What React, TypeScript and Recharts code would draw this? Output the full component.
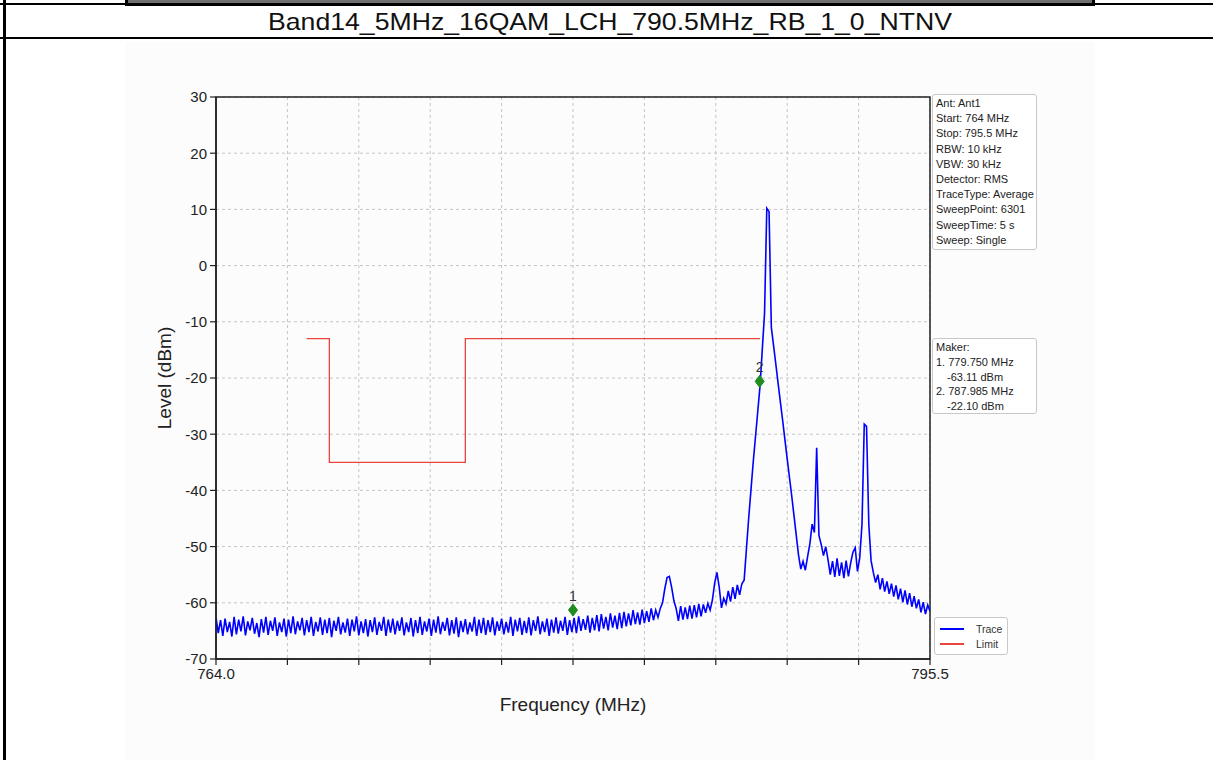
// Spectrum plot: Band14 5MHz 16QAM LCH trace against the emission limit.
import {
  CartesianGrid,
  ComposedChart,
  Line,
  ReferenceArea,
  ReferenceDot,
  XAxis,
  YAxis,
} from "recharts";

const FONT = "'Liberation Sans', Arial, sans-serif";

const TITLE = "Band14_5MHz_16QAM_LCH_790.5MHz_RB_1_0_NTNV";

const FREQ_START = 764;
const FREQ_STEP = 0.1;
const TRACE_LEVELS = [
  -62.6, -65.4, -63.1, -65.9, -62.8, -65.2, -63.4, -66.0, -62.5, -65.6,
  -63.0, -65.1, -62.4, -65.8, -63.3, -64.9, -62.7, -65.5, -63.6, -66.1,
  -62.9, -65.3, -62.5, -65.7, -63.2, -65.0, -62.6, -65.9, -63.5, -65.2,
  -62.8, -66.0, -63.0, -65.4, -62.4, -65.6, -63.3, -64.9, -62.7, -65.8,
  -63.1, -65.2, -62.5, -65.9, -63.4, -65.1, -62.6, -65.7, -63.0, -65.4,
  -62.7, -66.1, -63.2, -65.0, -62.5, -65.6, -63.5, -65.3, -62.8, -65.9,
  -63.0, -65.1, -62.4, -65.8, -63.3, -65.4, -62.9, -66.0, -63.1, -65.2,
  -62.6, -65.7, -63.4, -65.0, -62.5, -65.9, -63.0, -65.3, -62.8, -65.6,
  -63.2, -65.0, -62.6, -65.8, -63.5, -65.2, -62.7, -66.0, -63.1, -65.4,
  -62.5, -65.7, -63.3, -65.1, -62.8, -65.9, -63.0, -65.3, -62.4, -65.6,
  -63.4, -65.0, -62.7, -65.8, -63.1, -65.5, -62.6, -66.1, -63.2, -65.2,
  -62.9, -65.6, -63.5, -65.1, -62.5, -65.9, -63.0, -65.4, -62.7, -65.7,
  -63.1, -65.2, -62.6, -65.8, -63.3, -65.0, -62.8, -65.6, -63.4, -65.3,
  -62.5, -65.9, -63.0, -65.1, -62.7, -65.7, -63.2, -65.4, -62.6, -65.8,
  -63.1, -65.0, -62.4, -65.6, -63.3, -65.2, -62.8, -65.9, -63.0, -65.3,
  -62.6, -65.5, -63.2, -65.0, -62.5, -65.7, -63.1, -65.2, -62.7, -65.4,
  -62.4, -65.0, -62.9, -64.8, -62.3, -65.3, -62.7, -64.9, -62.2, -65.1,
  -62.0, -64.6, -62.5, -64.9, -61.9, -64.4, -62.3, -64.7, -61.8, -64.5,
  -61.6, -64.2, -61.9, -64.0, -61.3, -63.8, -61.7, -63.9, -61.2, -63.6,
  -61.5, -63.4, -61.0, -63.1, -61.3, -62.6, -61.0, -60.0, -57.5, -55.5,
  -55.3, -57.2, -59.6, -61.0, -63.2, -60.6, -63.0, -60.8, -62.9, -60.5,
  -62.8, -60.4, -62.6, -60.2, -62.4, -60.3, -61.8, -60.1, -61.3, -59.5,
  -56.5, -54.6, -57.2, -60.9, -59.2, -60.2, -57.9, -59.8, -57.2, -59.3,
  -56.8, -58.6, -56.6, -56.0, -50.5, -45.0, -40.0, -35.0, -30.5, -26.0,
  -21.5, -15.0, -8.5, 10.2, 9.6, -11.0, -14.3, -17.6, -21.0, -24.3,
  -27.6, -31.0, -34.4, -37.7, -41.0, -44.5, -48.0, -51.5, -54.0, -52.6,
  -54.2, -51.8, -49.5, -46.0, -47.5, -32.4, -48.0, -49.6, -51.6, -50.0,
  -52.3, -55.0, -52.6, -55.4, -52.1, -55.2, -52.8, -55.6, -52.5, -55.3,
  -52.9, -51.0, -50.2, -54.4, -52.0, -46.0, -28.2, -28.6, -46.0, -52.5,
  -54.6, -56.4, -55.0, -57.6, -55.6, -58.0, -56.2, -58.4, -56.6, -58.9,
  -56.9, -59.4, -57.5, -59.9, -57.8, -60.3, -58.3, -60.7, -58.8, -61.0,
  -59.4, -61.7, -59.9, -62.0, -60.4, -61.5,
];

// Limit line (step mask).
const LIMIT_FREQS = [768, 769, 769, 775, 775, 788];
const LIMIT_LEVELS = [-13, -13, -35, -35, -13, -13];

// Markers, placed where the diamonds are drawn.
const MARKER_NAMES = ["1", "2"];
const MARKER_FREQS = [779.75, 787.985];
const MARKER_LEVELS = [-61.3, -20.6];

const X_TICKS = [764, 767.15, 770.3, 773.45, 776.6, 779.75, 782.9, 786.05, 789.2, 792.35, 795.5];
const X_LABELED = [764, 795.5];
const Y_TICKS = [-70, -60, -50, -40, -30, -20, -10, 0, 10, 20, 30];

const SETTINGS_LINES = [
  "Ant: Ant1",
  "Start: 764 MHz",
  "Stop: 795.5 MHz",
  "RBW: 10 kHz",
  "VBW: 30 kHz",
  "Detector: RMS",
  "TraceType: Average",
  "SweepPoint: 6301",
  "SweepTime: 5 s",
  "Sweep: Single",
];
const MARKER_LINES = ["Maker:", "1. 779.750 MHz", "-63.11 dBm", "2. 787.985 MHz", "-22.10 dBm"];

const LEGEND_ITEMS = [
  { name: "Trace", color: "#0000ff" },
  { name: "Limit", color: "#e8453c" },
];

const traceData = TRACE_LEVELS.map((level, i) => ({
  freq: Math.round((FREQ_START + i * FREQ_STEP) * 100) / 100,
  level,
}));
const limitData = LIMIT_FREQS.map((freq, i) => ({ freq, level: LIMIT_LEVELS[i] }));

const MarkerShape = (props: { cx?: number; cy?: number; name: string }) => {
  const { cx = 0, cy = 0, name } = props;
  return (
    <g>
      <polygon
        points={`${cx},${cy - 6} ${cx + 4.5},${cy} ${cx},${cy + 6} ${cx - 4.5},${cy}`}
        fill="#1e8c1e"
        stroke="#1e8c1e"
      />
      <text x={cx} y={cy - 9} textAnchor="middle" fontSize={14} fontFamily={FONT} fill="#333">
        {name}
      </text>
    </g>
  );
};

const boxStyle: React.CSSProperties = {
  position: "absolute",
  background: "#fff",
  border: "1px solid #c8c8c8",
  borderRadius: 3,
  boxSizing: "border-box",
  fontFamily: FONT,
  fontSize: 11,
  color: "#222",
  whiteSpace: "nowrap",
};

export default function App() {
  return (
    <div
      style={{
        position: "absolute",
        left: 0,
        top: 0,
        width: 1213,
        height: 760,
        background: "#fff",
        overflow: "hidden",
        fontFamily: FONT,
      }}
    >
      {/* document frame */}
      <div style={{ position: "absolute", left: 125, top: 42, width: 970, height: 718, background: "#fcfcfc" }} />
      <div style={{ position: "absolute", left: 0, top: 3, width: 1213, height: 2, background: "#000" }} />
      <div
        style={{
          position: "absolute",
          left: 125,
          top: -4,
          width: 970,
          height: 10,
          background: "#707070",
          border: "3px solid #000",
          boxSizing: "border-box",
        }}
      />
      <div style={{ position: "absolute", left: 0, top: 37, width: 1213, height: 2, background: "#000" }} />
      <div style={{ position: "absolute", left: 3, top: 0, width: 3, height: 760, background: "#000" }} />

      <svg style={{ position: "absolute", left: 0, top: 0 }} width={1213} height={40}>
        <text
          x={610}
          y={30}
          textAnchor="middle"
          fontFamily={FONT}
          fontSize={24}
          fill="#111"
          textLength={684}
          lengthAdjust="spacingAndGlyphs"
        >
          {TITLE}
        </text>
      </svg>

      <div style={{ position: "absolute", left: 0, top: 0 }}>
        <ComposedChart width={1213} height={760} margin={{ top: 97, right: 283, bottom: 71, left: 156 }}>
          <CartesianGrid stroke="#c4c4c4" strokeDasharray="3 3" />
          <XAxis
            type="number"
            dataKey="freq"
            domain={[764, 795.5]}
            ticks={X_TICKS}
            interval={0}
            height={30}
            tickSize={6}
            tickMargin={3}
            allowDataOverflow
            axisLine={{ stroke: "#222", strokeWidth: 1.5 }}
            tickLine={{ stroke: "#222", strokeWidth: 1.2 }}
            tick={{ fontSize: 15, fill: "#222", fontFamily: FONT }}
            tickFormatter={(v: number) => (X_LABELED.includes(v) ? v.toFixed(1) : "")}
          />
          <YAxis
            type="number"
            domain={[-70, 30]}
            ticks={Y_TICKS}
            interval={0}
            width={60}
            tickSize={6}
            tickMargin={3}
            allowDataOverflow
            axisLine={{ stroke: "#222", strokeWidth: 1.5 }}
            tickLine={{ stroke: "#222", strokeWidth: 1.2 }}
            tick={{ fontSize: 15, fill: "#222", fontFamily: FONT }}
          />
          <ReferenceArea
            x1={764}
            x2={795.5}
            y1={-70}
            y2={30}
            fill="none"
            stroke="#222"
            strokeWidth={1.5}
            fillOpacity={0}
            ifOverflow="visible"
          />
          <Line
            data={limitData}
            dataKey="level"
            type="linear"
            stroke="#e8453c"
            strokeWidth={1.3}
            dot={false}
            isAnimationActive={false}
          />
          <Line
            data={traceData}
            dataKey="level"
            type="linear"
            stroke="#0000ff"
            strokeWidth={1.6}
            dot={false}
            isAnimationActive={false}
          />
          {MARKER_NAMES.map((name, i) => (
            <ReferenceDot
              key={name}
              x={MARKER_FREQS[i]}
              y={MARKER_LEVELS[i]}
              r={5}
              ifOverflow="visible"
              shape={(p: { cx?: number; cy?: number }) => <MarkerShape cx={p.cx} cy={p.cy} name={name} />}
            />
          ))}
        </ComposedChart>
      </div>

      {/* axis titles */}
      <div
        style={{
          position: "absolute",
          left: 573,
          top: 705,
          transform: "translate(-50%, -50%)",
          fontSize: 19,
          color: "#222",
          whiteSpace: "nowrap",
        }}
      >
        Frequency (MHz)
      </div>
      <div
        style={{
          position: "absolute",
          left: 165,
          top: 378,
          transform: "translate(-50%, -50%) rotate(-90deg)",
          fontSize: 19,
          color: "#222",
          whiteSpace: "nowrap",
        }}
      >
        Level (dBm)
      </div>

      {/* sweep settings */}
      <div style={{ ...boxStyle, left: 932, top: 94, width: 105, height: 156, padding: "1px 3px", lineHeight: "15.2px" }}>
        {SETTINGS_LINES.map((t) => (
          <div key={t}>{t}</div>
        ))}
      </div>

      {/* marker readout */}
      <div style={{ ...boxStyle, left: 932, top: 338, width: 105, height: 76, padding: "1px 3px", lineHeight: "14.8px" }}>
        {MARKER_LINES.map((t, i) => (
          <div key={t} style={{ paddingLeft: i === 2 || i === 4 ? 11 : 0 }}>
            {t}
          </div>
        ))}
      </div>

      {/* legend */}
      <div style={{ ...boxStyle, left: 934, top: 617, width: 74, height: 38, fontSize: 10.5 }}>
        {LEGEND_ITEMS.map((it, i) => (
          <div key={it.name} style={{ position: "absolute", left: 5, top: 4 + i * 15, height: 14, display: "flex", alignItems: "center" }}>
            <span style={{ display: "inline-block", width: 24, height: 2, background: it.color }} />
            <span style={{ marginLeft: 12, color: "#333" }}>{it.name}</span>
          </div>
        ))}
      </div>
    </div>
  );
}
